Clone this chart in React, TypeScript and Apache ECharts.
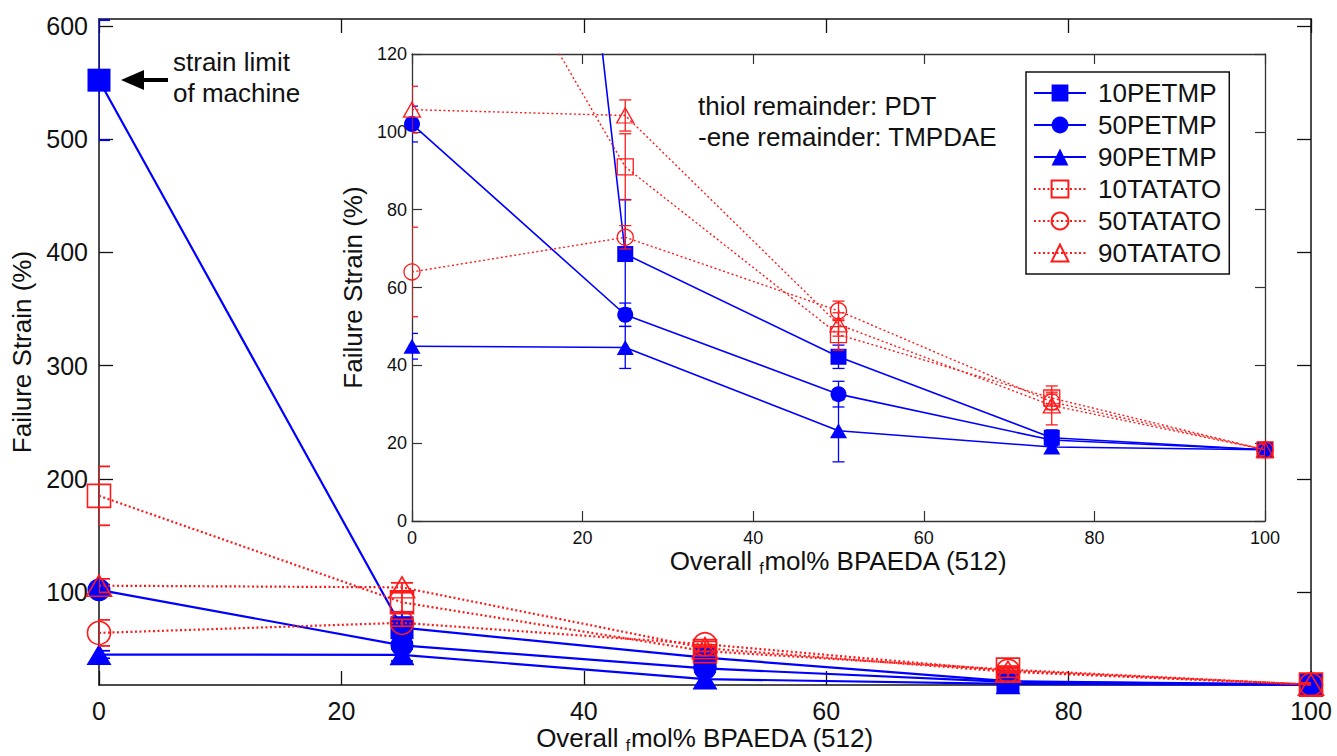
import React, { useEffect, useRef } from 'react';
import * as echarts from 'echarts';

// ---- data ----
const xValues = [0, 25, 50, 75, 100];
const seriesNames = ['10PETMP', '50PETMP', '90PETMP', '10TATATO', '50TATATO', '90TATATO'];
const pet10 = [552, 68.6, 42.2, 21.4, 18.3];
const pet10Err = [53, 14, 3, 2, 1.5];
const pet50 = [102, 53, 32.6, 20.8, 18.3];
const pet50Err = [4.6, 3, 3.3, 1.5, 1.5];
const pet90 = [44.9, 44.6, 23.2, 19, 18.3];
const pet90Err = [3.3, 5.4, 8, 1.5, 1.5];
const tat10 = [185, 91, 47.9, 31.6, 18.3];
const tat10Err = [26, 8.5, 4, 1.5, 1.5];
const tat50 = [64, 72.9, 54, 30.6, 18.3];
const tat50Err = [11.5, 3, 2.5, 2, 1.5];
const tat90 = [105.7, 104.2, 50.5, 29.7, 18.3];
const tat90Err = [6, 4, 3, 5, 1.5];

const mainYTicks = [100, 200, 300, 400, 500, 600];

const BLUE = '#0000ff';
const RED = '#ff1a1a';
const INK = '#111111';
const FONT = '"Liberation Sans", Arial, Helvetica, sans-serif';

type Def = { name: string; vals: number[]; errs: number[]; color: string; symbol: string; filled: boolean };
const defs: Def[] = [
  { name: seriesNames[0], vals: pet10, errs: pet10Err, color: BLUE, symbol: 'rect', filled: true },
  { name: seriesNames[1], vals: pet50, errs: pet50Err, color: BLUE, symbol: 'circle', filled: true },
  { name: seriesNames[2], vals: pet90, errs: pet90Err, color: BLUE, symbol: 'triangle', filled: true },
  { name: seriesNames[3], vals: tat10, errs: tat10Err, color: RED, symbol: 'rect', filled: false },
  { name: seriesNames[4], vals: tat50, errs: tat50Err, color: RED, symbol: 'circle', filled: false },
  { name: seriesNames[5], vals: tat90, errs: tat90Err, color: RED, symbol: 'triangle', filled: false },
];

function errRender(cap: number, color: string, width: number) {
  return (_params: any, api: any) => {
    const x = api.value(0);
    const lo = api.value(1);
    const hi = api.value(2);
    const a = api.coord([x, lo]);
    const b = api.coord([x, hi]);
    const style = { stroke: color, lineWidth: width, fill: 'none' };
    return {
      type: 'group',
      children: [
        { type: 'line', shape: { x1: a[0], y1: a[1], x2: b[0], y2: b[1] }, style },
        { type: 'line', shape: { x1: a[0] - cap, y1: a[1], x2: a[0] + cap, y2: a[1] }, style },
        { type: 'line', shape: { x1: b[0] - cap, y1: b[1], x2: b[0] + cap, y2: b[1] }, style },
      ],
    };
  };
}

function buildSeries(inset: boolean) {
  const out: any[] = [];
  const axisIdx = inset ? 2 : 0;
  const yIdx = inset ? 2 : 0;
  defs.forEach((d) => {
    const isTri = d.symbol === 'triangle';
    const size = inset ? (isTri ? [17, 15] : 16) : (isTri ? [25, 21] : 23);
    out.push({
      type: 'line',
      name: d.name,
      xAxisIndex: axisIdx,
      yAxisIndex: yIdx,
      data: xValues.map((x, i) => [x, d.vals[i]]),
      symbol: d.symbol,
      symbolSize: size,
      showAllSymbol: true,
      clip: true,
      lineStyle: {
        color: d.color,
        width: d.filled ? (inset ? 1.6 : 2.2) : (inset ? 1.4 : 2.2),
        type: d.filled ? 'solid' : [2, 2.5],
      },
      itemStyle: d.filled
        ? { color: d.color, borderColor: d.color, borderWidth: 0 }
        : { color: 'rgba(255,255,255,0)', borderColor: d.color, borderWidth: inset ? 1.3 : 1.6 },
      emphasis: { disabled: true },
      z: d.filled ? 3 : 4,
    });
    out.push({
      type: 'custom',
      name: 'err-' + d.name + (inset ? '-inset' : ''),
      xAxisIndex: axisIdx,
      yAxisIndex: yIdx,
      data: xValues.map((x, i) => [x, d.vals[i] - d.errs[i], d.vals[i] + d.errs[i]]),
      encode: { x: 0, y: [1, 2] },
      renderItem: errRender(inset ? 6 : 11, d.color, inset ? 1.3 : 1.8),
      clip: true,
      silent: true,
      z: d.filled ? 3 : 4,
    });
  });
  return out;
}

const subName = '{n|Overall }{s|f}{n|mol% BPAEDA (512)}';
const nameRich = {
  n: { fontSize: 26, fontFamily: FONT, color: INK, lineHeight: 26, verticalAlign: 'top' },
  s: { fontSize: 16, fontFamily: FONT, color: INK, lineHeight: 14, verticalAlign: 'top', padding: [12, 0, 0, 0] },
};

export default function App() {
  const ref = useRef<HTMLDivElement>(null);
  useEffect(() => {
    if (!ref.current) return;
    const chart = echarts.init(ref.current, undefined, { renderer: 'svg' });
    const axisLine = { show: true, onZero: false, lineStyle: { color: INK, width: 1.5 } };
    const insetLine = { show: true, onZero: false, lineStyle: { color: '#333', width: 1.3 } };
    const option: any = {
      animation: false,
      backgroundColor: '#ffffff',
      textStyle: { fontFamily: FONT },
      grid: [
        { left: 99, right: 26, top: 19, bottom: 71, show: false, containLabel: false, outerBoundsMode: 'none' },
        {
          left: 412, right: 72, top: 54, bottom: 235, show: true, backgroundColor: '#ffffff', borderWidth: 0,
          containLabel: false, outerBoundsMode: 'none',
        },
      ],
      xAxis: [
        {
          gridIndex: 0, type: 'value', min: 0, max: 100, interval: 20, position: 'bottom',
          axisLine, axisTick: { inside: true, length: 14, lineStyle: { color: INK, width: 1.3 } },
          axisLabel: { fontSize: 25, color: INK, margin: 13, fontFamily: FONT },
          splitLine: { show: false },
          name: subName, nameLocation: 'middle', nameGap: 40, nameMoveOverlap: false,
          nameTextStyle: { rich: nameRich },
        },
        {
          gridIndex: 0, type: 'value', min: 0, max: 100, interval: 20, position: 'top',
          axisLine, axisTick: { inside: true, length: 14, lineStyle: { color: INK, width: 1.3 } },
          axisLabel: { show: false }, splitLine: { show: false },
        },
        {
          gridIndex: 1, type: 'value', min: 0, max: 100, interval: 20, position: 'bottom',
          axisLine: insetLine, axisTick: { inside: true, length: 10, lineStyle: { color: '#333', width: 1.2 } },
          axisLabel: { fontSize: 18, color: INK, margin: 8, fontFamily: FONT },
          splitLine: { show: false },
          name: subName, nameLocation: 'middle', nameGap: 27, nameMoveOverlap: false,
          nameTextStyle: { rich: nameRich },
        },
        {
          gridIndex: 1, type: 'value', min: 0, max: 100, interval: 20, position: 'top',
          axisLine: insetLine, axisTick: { inside: true, length: 10, lineStyle: { color: '#333', width: 1.2 } },
          axisLabel: { show: false }, splitLine: { show: false },
        },
      ],
      yAxis: [
        {
          gridIndex: 0, type: 'value', min: 18, max: 606, position: 'left',
          axisLine,
          axisTick: { inside: true, length: 14, customValues: mainYTicks, lineStyle: { color: INK, width: 1.3 } },
          axisLabel: { fontSize: 25, color: INK, margin: 11, fontFamily: FONT, customValues: mainYTicks },
          splitLine: { show: false },
          name: 'Failure Strain (%)', nameLocation: 'middle', nameGap: 59,
          nameTextStyle: { fontSize: 26, color: INK, fontFamily: FONT },
        },
        {
          gridIndex: 0, type: 'value', min: 18, max: 606, position: 'right',
          axisLine,
          axisTick: { inside: true, length: 14, customValues: mainYTicks, lineStyle: { color: INK, width: 1.3 } },
          axisLabel: { show: false, customValues: mainYTicks }, splitLine: { show: false },
        },
        {
          gridIndex: 1, type: 'value', min: 0, max: 120, interval: 20, position: 'left',
          axisLine: insetLine, axisTick: { inside: true, length: 10, lineStyle: { color: '#333', width: 1.2 } },
          axisLabel: { fontSize: 18, color: INK, margin: 5, fontFamily: FONT },
          splitLine: { show: false },
          name: 'Failure Strain (%)', nameLocation: 'middle', nameGap: 22,
          nameTextStyle: { fontSize: 26, color: INK, fontFamily: FONT },
        },
        {
          gridIndex: 1, type: 'value', min: 0, max: 120, interval: 20, position: 'right',
          axisLine: insetLine, axisTick: { inside: true, length: 10, lineStyle: { color: '#333', width: 1.2 } },
          axisLabel: { show: false }, splitLine: { show: false },
        },
      ],
      legend: {
        data: seriesNames,
        orient: 'vertical',
        left: 1026,
        top: 72,
        padding: [8, 8, 8, 7],
        itemWidth: 52,
        itemHeight: 21,
        itemGap: 6,
        borderColor: INK,
        borderWidth: 1.5,
        backgroundColor: '#ffffff',
        selectedMode: false,
        textStyle: { fontSize: 26, color: INK, fontFamily: FONT, lineHeight: 26, padding: [0, 0, 0, 7] },
        z: 10,
      },
      graphic: [
        {
          type: 'text', left: 173, top: 46, z: 20,
          style: { text: 'strain limit\nof machine', fontSize: 26, fontFamily: FONT, fill: INK, lineHeight: 31 },
        },
        { type: 'line', z: 20, shape: { x1: 168, y1: 80, x2: 138, y2: 80 }, style: { stroke: '#000', lineWidth: 4 } },
        { type: 'polygon', z: 20, shape: { points: [[121, 80], [144, 70], [144, 90]] }, style: { fill: '#000' } },
        {
          type: 'text', left: 698, top: 90, z: 20,
          style: { text: 'thiol remainder: PDT\n-ene remainder: TMPDAE', fontSize: 26, fontFamily: FONT, fill: INK, lineHeight: 31 },
        },
      ],
      series: [...buildSeries(false), ...buildSeries(true)],
    };
    chart.setOption(option);
    return () => chart.dispose();
  }, []);
  return (
    <div
      ref={ref}
      style={{ position: 'fixed', left: 0, top: 0, width: 1337, height: 756, background: '#fff' }}
    />
  );
}
